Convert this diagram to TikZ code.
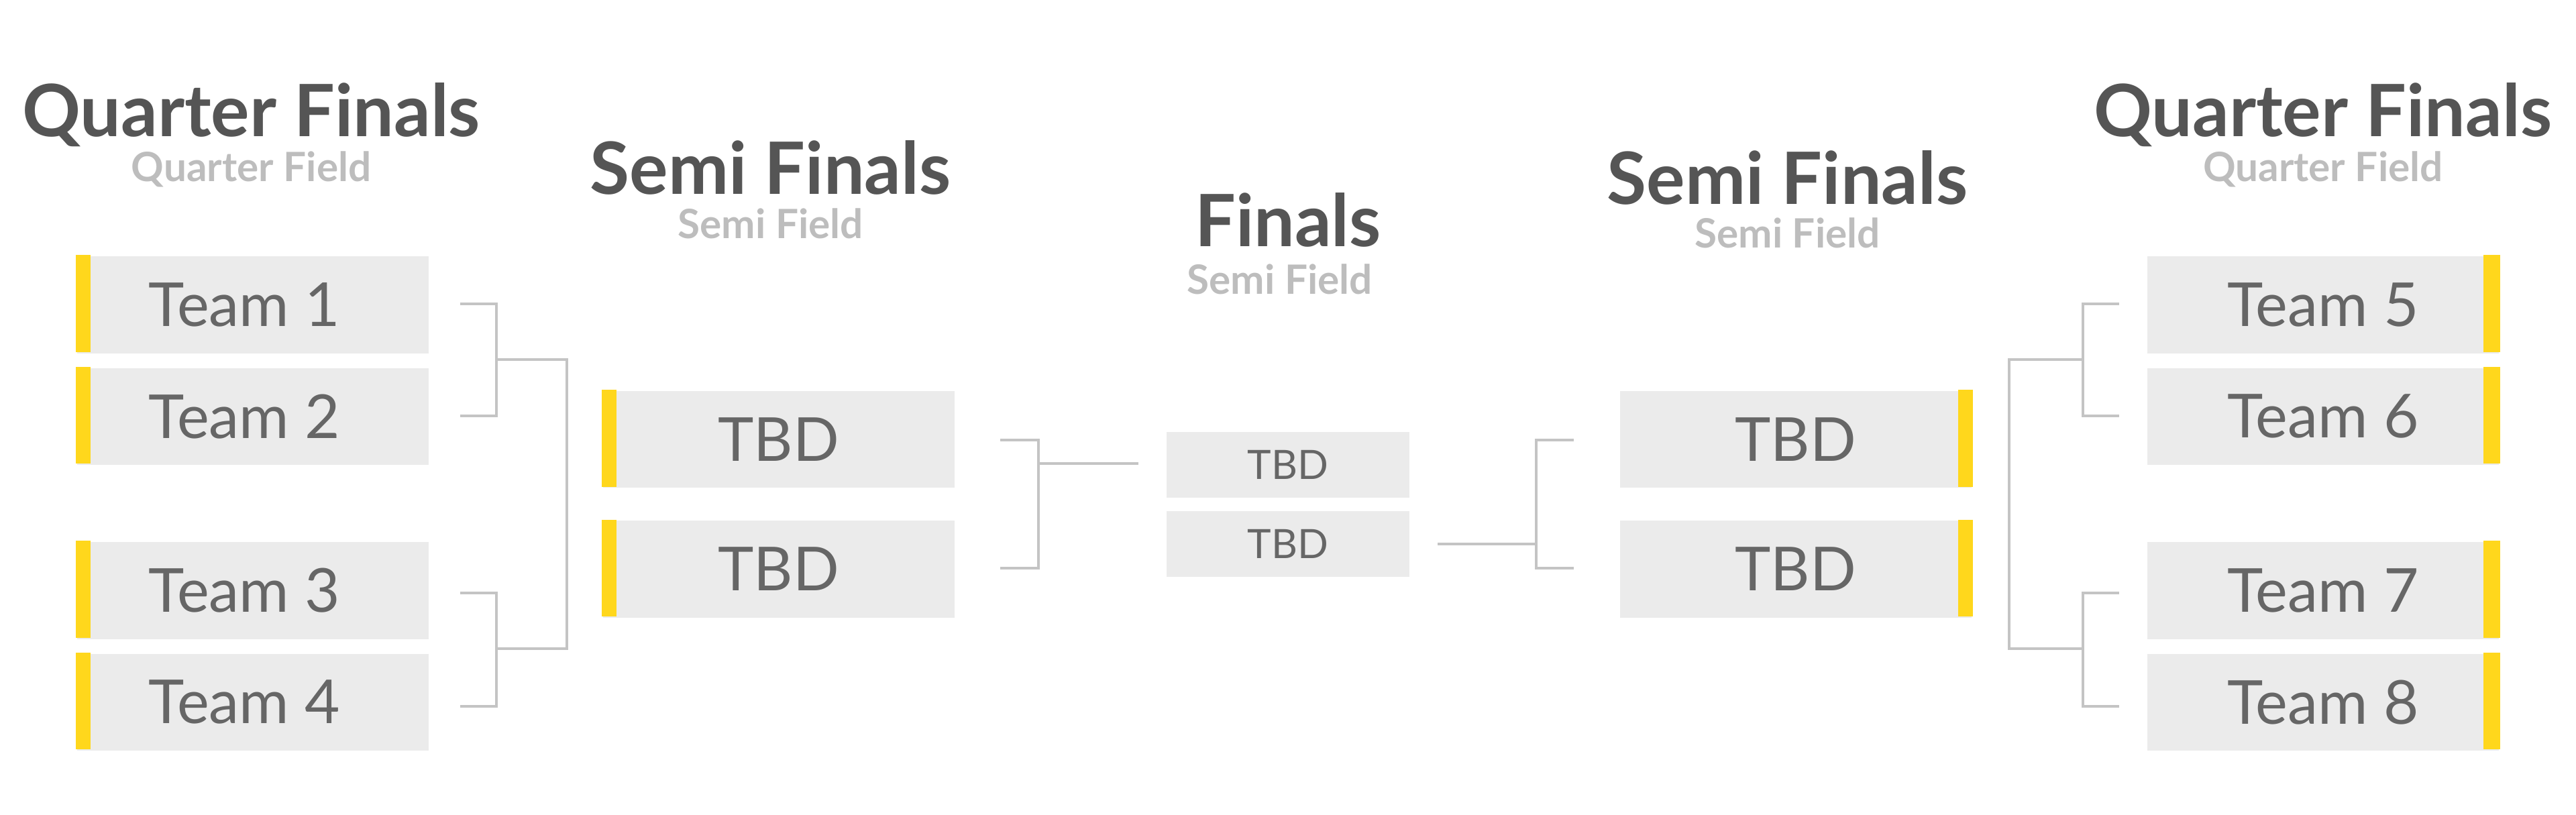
\documentclass[tikz,border=0pt]{standalone}
\usepackage{fontspec}
\setmainfont{Lato}
\definecolor{boxgray}{HTML}{EBEBEB}
\definecolor{bary}{HTML}{FFD71C}
\definecolor{titlegray}{HTML}{555555}
\definecolor{subgray}{HTML}{BDBDBD}
\definecolor{teamgray}{HTML}{666666}
\definecolor{linegray}{HTML}{C4C4C4}
\tikzset{
    team/.style={fill=boxgray, minimum width=2.14cm, minimum height=0.59cm, inner sep=0pt, text=teamgray, font=\fontsize{10.5}{12}\selectfont},
    final/.style={fill=boxgray, minimum width=1.48cm, minimum height=0.40cm, inner sep=0pt, text=teamgray, font=\fontsize{7}{9}\selectfont},
    bar/.style={fill=bary, draw=none},
    title/.style={text=titlegray, font=\bfseries\fontsize{12.5}{14}\selectfont},
    subtitle/.style={text=subgray, font=\bfseries\fontsize{7}{8}\selectfont},
    link/.style={draw=linegray, line width=0.45pt}
}
\begin{document}
\begin{tikzpicture}[x=0.01cm, y=-0.01cm]
    \useasboundingbox (0,0) rectangle (1568,496);

    % titles
    \node[title] (tql) at (153,70) {Quarter Finals};
    \node[subtitle] (sql) at (153,103) {Quarter Field};
    \node[title] (tsl) at (469,102) {Semi Finals};
    \node[subtitle] (ssl) at (469,136) {Semi Field};
    \node[title] (tf) at (784,134) {Finals};
    \node[subtitle] (sf) at (779,170) {Semi Field};
    \node[title] (tsr) at (1088,108) {Semi Finals};
    \node[subtitle] (ssr) at (1088,142) {Semi Field};
    \node[title] (tqr) at (1414,70) {Quarter Finals};
    \node[subtitle] (sqr) at (1414,103) {Quarter Field};

    % quarter final boxes
    \foreach \i/\y in {1/185.5, 2/253.5, 3/359.5, 4/427.5} {
        \node[team] (ql\i) at (154,\y) {\hspace*{-3pt}Team \i};
        \fill[bar] (ql\i.north west) rectangle ++(9,59);
    }
    \foreach \i/\n/\y in {1/5/185.5, 2/6/253.5, 3/7/359.5, 4/8/427.5} {
        \node[team] (qr\i) at (1414,\y) {Team \n};
        \fill[bar] (qr\i.north east) rectangle ++(-10,59);
    }

    % semi final boxes
    \foreach \i/\y in {1/267.5, 2/346.5} {
        \node[team] (sl\i) at (474,\y) {TBD};
        \fill[bar] (sl\i.north west) rectangle ++(9,59);
        \node[team] (sr\i) at (1093,\y) {TBD};
        \fill[bar] (sr\i.north east) rectangle ++(-9,59);
    }

    % finals
    \node[final] (f1) at (784,283) {TBD};
    \node[final] (f2) at (784,331) {TBD};

    % left brackets
    \draw[link] (280,185) -| (302,253) -- (280,253);
    \draw[link] (280,361) -| (302,430) -- (280,430);
    \draw[link] (302,219) -| (345,395) -- (302,395);
    \draw[link] (609,268) -| (632,346) -- (609,346);
    \draw[link] (632,282) -- (693,282);

    % right brackets
    \draw[link] (958,268) -| (935,346) -- (958,346);
    \draw[link] (875,331) -- (935,331);
    \draw[link] (1290,185) -| (1268,253) -- (1290,253);
    \draw[link] (1290,361) -| (1268,430) -- (1290,430);
    \draw[link] (1268,219) -| (1223,395) -- (1268,395);

\end{tikzpicture}
\end{document}
